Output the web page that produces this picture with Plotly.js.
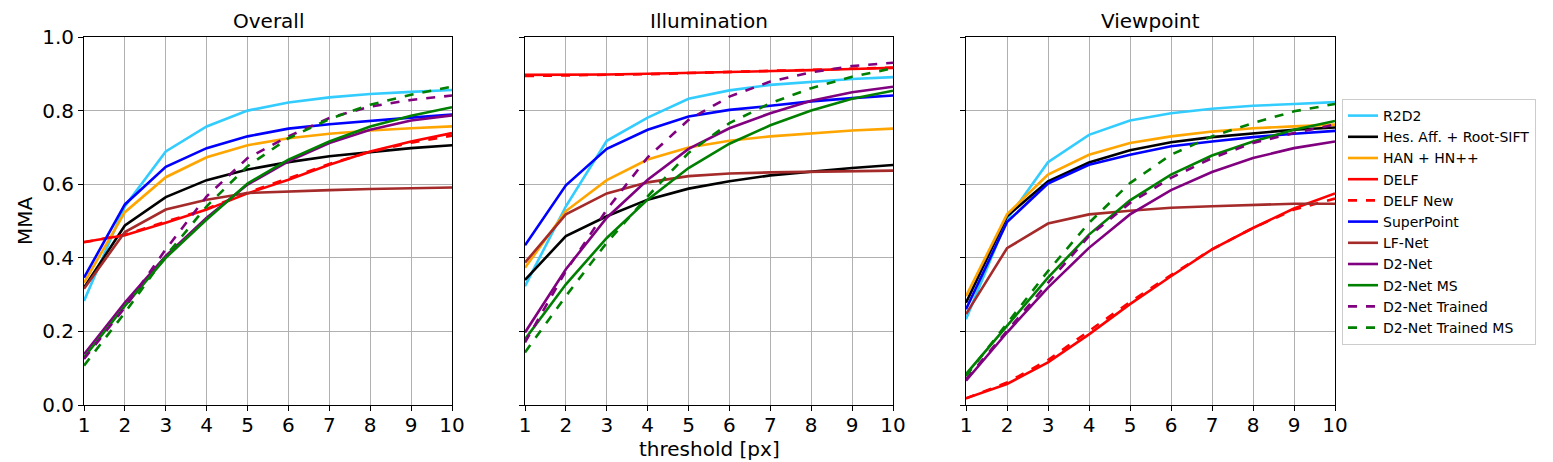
<!DOCTYPE html>
<html>
<head>
<meta charset="utf-8">
<script src="https://cdn.plot.ly/plotly-3.0.1.min.js"></script>
<style>html,body{margin:0;padding:0;background:#fff}#chart{width:1553px;height:462px}</style>
</head>
<body>
<div id="chart"></div>
<script>
const thresholds = [1, 2, 3, 4, 5, 6, 7, 8, 9, 10];
const panelTitles = ["Overall", "Illumination", "Viewpoint"];
const methods = ["R2D2", "Hes. Aff. + Root-SIFT", "HAN + HN++", "DELF", "DELF New", "SuperPoint", "LF-Net", "D2-Net", "D2-Net MS", "D2-Net Trained", "D2-Net Trained MS"];

// Overall
const overallR2D2 = [0.283, 0.540, 0.689, 0.757, 0.800, 0.822, 0.836, 0.845, 0.851, 0.856];
const overallHesAff = [0.319, 0.488, 0.565, 0.611, 0.640, 0.660, 0.676, 0.688, 0.698, 0.706];
const overallHAN = [0.332, 0.524, 0.619, 0.673, 0.706, 0.725, 0.737, 0.746, 0.752, 0.757];
const overallDELF = [0.443, 0.461, 0.495, 0.531, 0.575, 0.612, 0.653, 0.689, 0.716, 0.739];
const overallDELFNew = [0.442, 0.463, 0.498, 0.533, 0.577, 0.616, 0.655, 0.688, 0.713, 0.732];
const overallSuperPoint = [0.346, 0.545, 0.647, 0.698, 0.730, 0.751, 0.763, 0.773, 0.781, 0.789];
const overallLFNet = [0.316, 0.470, 0.531, 0.558, 0.576, 0.581, 0.584, 0.587, 0.589, 0.591];
const overallD2Net = [0.138, 0.278, 0.405, 0.509, 0.599, 0.662, 0.712, 0.748, 0.773, 0.787];
const overallD2NetMS = [0.129, 0.269, 0.400, 0.504, 0.602, 0.667, 0.716, 0.757, 0.786, 0.809];
const overallD2NetTrained = [0.125, 0.265, 0.423, 0.567, 0.671, 0.730, 0.780, 0.811, 0.829, 0.841];
const overallD2NetTrainedMS = [0.107, 0.251, 0.405, 0.540, 0.649, 0.725, 0.777, 0.816, 0.843, 0.865];

// Illumination
const illumR2D2 = [0.323, 0.540, 0.718, 0.781, 0.832, 0.855, 0.870, 0.879, 0.886, 0.891];
const illumHesAff = [0.340, 0.459, 0.513, 0.558, 0.588, 0.608, 0.624, 0.635, 0.644, 0.652];
const illumHAN = [0.373, 0.527, 0.611, 0.667, 0.700, 0.718, 0.730, 0.739, 0.746, 0.751];
const illumDELF = [0.897, 0.897, 0.898, 0.900, 0.902, 0.905, 0.907, 0.910, 0.913, 0.916];
const illumDELFNew = [0.894, 0.895, 0.897, 0.899, 0.902, 0.905, 0.908, 0.911, 0.914, 0.917];
const illumSuperPoint = [0.434, 0.597, 0.696, 0.748, 0.784, 0.802, 0.813, 0.825, 0.834, 0.841];
const illumLFNet = [0.387, 0.518, 0.575, 0.605, 0.622, 0.629, 0.632, 0.634, 0.636, 0.637];
const illumD2Net = [0.197, 0.369, 0.509, 0.612, 0.696, 0.752, 0.793, 0.827, 0.850, 0.865];
const illumD2NetMS = [0.179, 0.328, 0.454, 0.558, 0.644, 0.710, 0.760, 0.800, 0.832, 0.854];
const illumD2NetTrained = [0.170, 0.364, 0.531, 0.673, 0.775, 0.838, 0.879, 0.904, 0.921, 0.930];
const illumD2NetTrainedMS = [0.143, 0.296, 0.441, 0.567, 0.685, 0.766, 0.820, 0.861, 0.892, 0.915];

// Viewpoint
const viewR2D2 = [0.233, 0.504, 0.660, 0.734, 0.773, 0.793, 0.805, 0.813, 0.818, 0.823];
const viewHesAff = [0.278, 0.513, 0.608, 0.659, 0.692, 0.714, 0.728, 0.739, 0.748, 0.754];
const viewHAN = [0.296, 0.518, 0.626, 0.680, 0.712, 0.730, 0.743, 0.752, 0.757, 0.762];
const viewDELF = [0.018, 0.057, 0.116, 0.192, 0.274, 0.350, 0.423, 0.481, 0.534, 0.575];
const viewDELFNew = [0.018, 0.061, 0.122, 0.200, 0.280, 0.353, 0.423, 0.481, 0.531, 0.561];
const viewSuperPoint = [0.260, 0.497, 0.602, 0.653, 0.680, 0.703, 0.716, 0.728, 0.737, 0.745];
const viewLFNet = [0.247, 0.426, 0.493, 0.518, 0.528, 0.536, 0.540, 0.544, 0.547, 0.547];
const viewD2Net = [0.066, 0.197, 0.319, 0.427, 0.518, 0.584, 0.633, 0.671, 0.698, 0.716];
const viewD2NetMS = [0.084, 0.215, 0.346, 0.463, 0.556, 0.626, 0.678, 0.716, 0.748, 0.772];
const viewD2NetTrained = [0.070, 0.201, 0.332, 0.459, 0.549, 0.617, 0.671, 0.712, 0.739, 0.762];
const viewD2NetTrainedMS = [0.079, 0.220, 0.364, 0.495, 0.603, 0.680, 0.730, 0.766, 0.798, 0.818];

const panels = [
  [overallR2D2, overallHesAff, overallHAN, overallDELF, overallDELFNew, overallSuperPoint, overallLFNet, overallD2Net, overallD2NetMS, overallD2NetTrained, overallD2NetTrainedMS],
  [illumR2D2, illumHesAff, illumHAN, illumDELF, illumDELFNew, illumSuperPoint, illumLFNet, illumD2Net, illumD2NetMS, illumD2NetTrained, illumD2NetTrainedMS],
  [viewR2D2, viewHesAff, viewHAN, viewDELF, viewDELFNew, viewSuperPoint, viewLFNet, viewD2Net, viewD2NetMS, viewD2NetTrained, viewD2NetTrainedMS]
];

const colors = ["#33ccff", "#000000", "#ffa500", "#ff0000", "#ff0000", "#0000ff", "#a52a2a", "#800080", "#008000", "#800080", "#008000"];
const dashes = ["solid", "solid", "solid", "solid", "dash", "solid", "solid", "solid", "solid", "dash", "dash"];

const W = 1553, H = 462;
const traces = [];
panels.forEach((series, p) => {
  const ax = p === 0 ? "" : String(p + 1);
  series.forEach((vals, i) => {
    traces.push({
      x: thresholds, y: vals, type: "scatter", mode: "lines",
      name: methods[i], legendgroup: methods[i], showlegend: p === 0,
      xaxis: "x" + ax, yaxis: "y" + ax,
      line: {color: colors[i], width: 2.6, dash: dashes[i]},
      hoverinfo: "skip"
    });
  });
});

const panelPx = [[84, 452], [525, 893], [966, 1335]];
const yDom = [1 - 405 / H, 1 - 37 / H];
const font = {family: "DejaVu Sans", size: 20, color: "#000"};

const layout = {
  width: W, height: H,
  margin: {l: 0, r: 0, t: 0, b: 0},
  paper_bgcolor: "#fff", plot_bgcolor: "#fff",
  font: font,
  showlegend: true,
  legend: {
    x: 1342 / W, y: 1 - 99 / H, xanchor: "left", yanchor: "top",
    bgcolor: "#fff", bordercolor: "#cccccc", borderwidth: 1,
    font: {family: "DejaVu Sans", size: 14, color: "#000"},
    tracegroupgap: 0, itemwidth: 30
  },
  annotations: [],
};

panelPx.forEach((px, p) => {
  const ax = p === 0 ? "" : String(p + 1);
  layout["xaxis" + ax] = {
    domain: [px[0] / W, px[1] / W], anchor: "y" + ax,
    range: [1, 10], tickmode: "linear", tick0: 1, dtick: 1,
    showgrid: true, gridcolor: "#b0b0b0", gridwidth: 1,
    showline: true, linecolor: "#000", linewidth: 1, mirror: true,
    ticks: "outside", ticklen: 5, tickcolor: "#000", ticklabelstandoff: -3,
    tickfont: font, zeroline: false, automargin: false
  };
  layout["yaxis" + ax] = {
    domain: yDom, anchor: "x" + ax,
    range: [0, 1], tickmode: "linear", tick0: 0, dtick: 0.2, tickformat: ".1f",
    showticklabels: p === 0,
    showgrid: true, gridcolor: "#b0b0b0", gridwidth: 1,
    showline: true, linecolor: "#000", linewidth: 1, mirror: true,
    ticks: "outside", ticklen: 5, tickcolor: "#000",
    tickfont: font, zeroline: false, automargin: false
  };
  layout.annotations.push({
    text: panelTitles[p], xref: "paper", yref: "paper",
    x: (px[0] + px[1]) / 2 / W, y: 1 - 21 / H, xanchor: "center", yanchor: "middle",
    showarrow: false, font: font
  });
});

layout.annotations.push({
  text: "MMA", xref: "paper", yref: "paper", x: 25 / W, y: 1 - 221 / H,
  xanchor: "center", yanchor: "middle", textangle: -90, showarrow: false, font: font
});
layout.annotations.push({
  text: "threshold [px]", xref: "paper", yref: "paper", x: 709 / W, y: 1 - 449 / H,
  xanchor: "center", yanchor: "middle", showarrow: false, font: font
});

Plotly.newPlot("chart", traces, layout, {displayModeBar: false, staticPlot: true});
</script>
</body>
</html>
